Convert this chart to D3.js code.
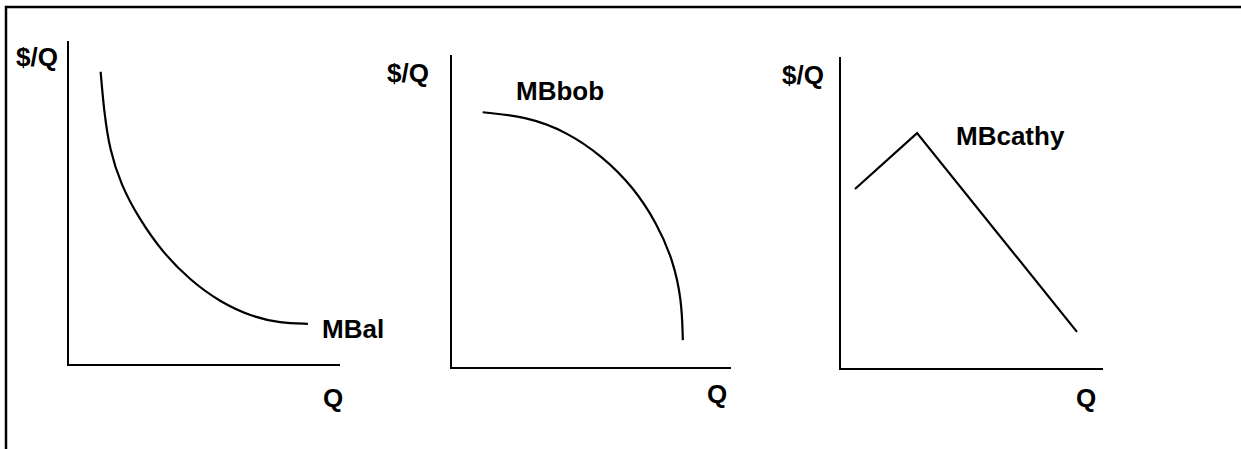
<!DOCTYPE html>
<html>
<head>
<meta charset="utf-8">
<script src="https://cdn.jsdelivr.net/npm/d3@7"></script>
<style>
  html, body { margin: 0; padding: 0; background: #fff; }
  svg { display: block; }
  text { font-family: "Liberation Sans", Arial, sans-serif; font-weight: bold; fill: #000; }
</style>
</head>
<body>
<svg id="chart" width="1241" height="449"></svg>
<script>
// ---- Data (in each panel's 0-100 units) ----
const curveNames = ["MBal", "MBbob", "MBcathy"];
const axisLabelY = "$/Q";
const axisLabelX = "Q";

const mbalQ = [12.0, 13.2, 15.3, 19.5, 26.0, 34.9, 44.9, 55.9, 68.0, 77.9, 88.2];
const mbalP = [90.5, 78.7, 66.4, 55.6, 45.3, 34.6, 26.2, 19.4, 14.8, 13.0, 12.7];

const mbbobQ = [11.3, 27.0, 41.3, 54.3, 65.0, 73.5, 79.3, 82.4, 82.8];
const mbbobP = [81.7, 80.3, 75.5, 67.5, 57.9, 46.3, 34.5, 21.7, 8.9];

const mbcathyQ = [5.7, 29.3, 90.1];
const mbcathyP = [57.7, 75.6, 11.9];

// ---- Layout ----
const panels = [
  { x0: 68, x1: 340, y0: 365, y1: 41, q: mbalQ, p: mbalP, curve: d3.curveBasis,
    ylab: [16, 66], name: [322, 338], xlab: [323, 407] },
  { x0: 451, x1: 731, y0: 368, y1: 55, q: mbbobQ, p: mbbobP, curve: d3.curveBasis,
    ylab: [387, 82], name: [516, 100], xlab: [707, 403] },
  { x0: 840, x1: 1103, y0: 369, y1: 57, q: mbcathyQ, p: mbcathyP, curve: d3.curveLinear,
    ylab: [782, 84], name: [956, 145], xlab: [1076, 407] }
];

const svg = d3.select("#chart");

// Frame (top and left edges)
svg.append("path")
  .attr("d", "M6,449 L6,7 L1241,7")
  .attr("fill", "none").attr("stroke", "#000").attr("stroke-width", 2.5);

panels.forEach((pn, i) => {
  const xs = d3.scaleLinear().domain([0, 100]).range([pn.x0, pn.x1]);
  const ys = d3.scaleLinear().domain([0, 100]).range([pn.y0, pn.y1]);
  const g = svg.append("g");

  g.append("path")
    .attr("d", `M${xs(0)},${ys(100)} L${xs(0)},${ys(0)} L${xs(100)},${ys(0)}`)
    .attr("fill", "none").attr("stroke", "#000").attr("stroke-width", 2);

  const pts = pn.q.map((d, j) => [d, pn.p[j]]);
  const line = d3.line()
    .x(d => xs(d[0])).y(d => ys(d[1]))
    .curve(pn.curve);
  g.append("path").datum(pts)
    .attr("d", line)
    .attr("fill", "none").attr("stroke", "#000").attr("stroke-width", 2.2);

  g.append("text").attr("x", pn.ylab[0]).attr("y", pn.ylab[1])
    .attr("font-size", 26).text(axisLabelY);
  g.append("text").attr("x", pn.name[0]).attr("y", pn.name[1])
    .attr("font-size", 26).text(curveNames[i]);
  g.append("text").attr("x", pn.xlab[0]).attr("y", pn.xlab[1])
    .attr("font-size", 26).text(axisLabelX);
});
</script>
</body>
</html>
